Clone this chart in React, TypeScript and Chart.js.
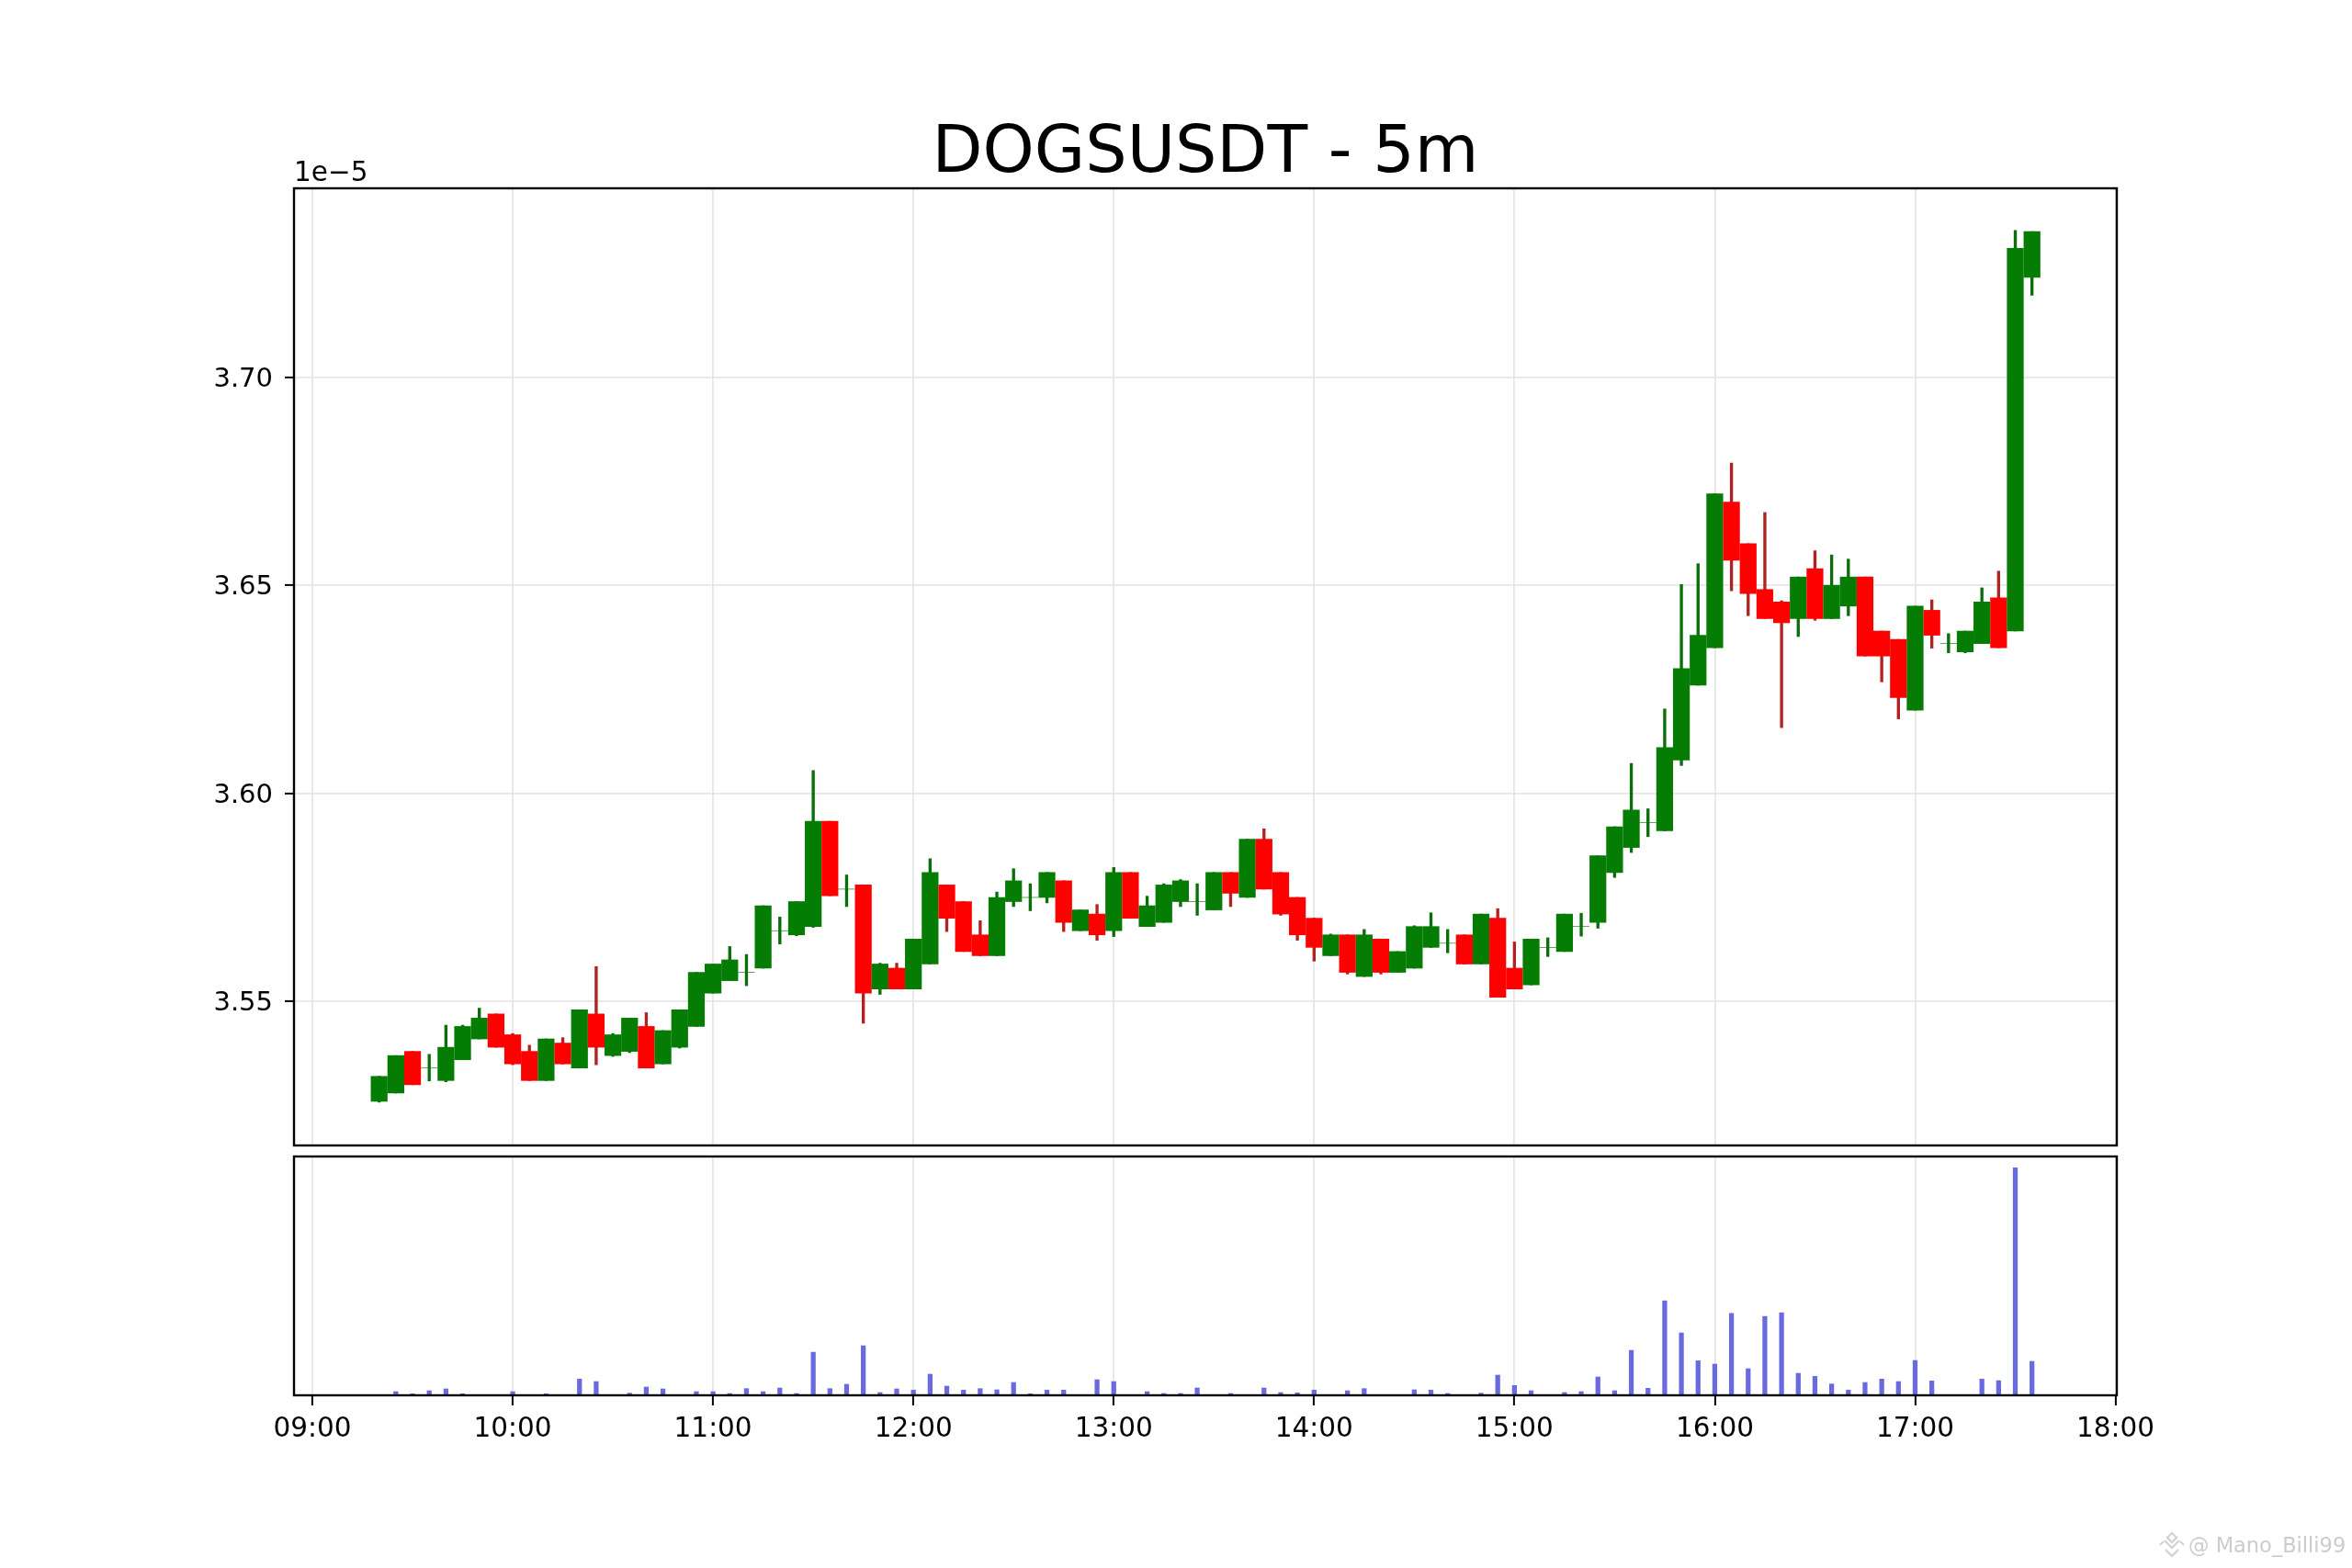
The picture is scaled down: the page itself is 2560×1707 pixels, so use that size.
import React, { useEffect, useRef } from "react";
import { Chart, registerables } from "chart.js";

Chart.register(...registerables);

const TITLE = "DOGSUSDT - 5m";
const OFFSET_TEXT = "1e\u22125";
const WATERMARK = "@ Mano_Billi99";

const times = [
  "09:20","09:25","09:30","09:35","09:40","09:45","09:50","09:55","10:00","10:05",
  "10:10","10:15","10:20","10:25","10:30","10:35","10:40","10:45","10:50","10:55",
  "11:00","11:05","11:10","11:15","11:20","11:25","11:30","11:35","11:40","11:45",
  "11:50","11:55","12:00","12:05","12:10","12:15","12:20","12:25","12:30","12:35",
  "12:40","12:45","12:50","12:55","13:00","13:05","13:10","13:15","13:20","13:25",
  "13:30","13:35","13:40","13:45","13:50","13:55","14:00","14:05","14:10","14:15",
  "14:20","14:25","14:30","14:35","14:40","14:45","14:50","14:55","15:00","15:05",
  "15:10","15:15","15:20","15:25","15:30","15:35","15:40","15:45","15:50","15:55",
  "16:00","16:05","16:10","16:15","16:20","16:25","16:30","16:35","16:40","16:45",
  "16:50","16:55","17:00","17:05","17:10","17:15","17:20","17:25","17:30","17:35",
];

const opens = [
  3.526,3.528,3.538,3.534,3.531,3.536,3.541,3.547,3.542,3.538,
  3.531,3.540,3.534,3.547,3.537,3.538,3.544,3.535,3.539,3.544,
  3.552,3.555,3.557,3.558,3.567,3.566,3.568,3.5933,3.577,3.578,
  3.553,3.558,3.553,3.559,3.578,3.574,3.566,3.561,3.574,3.575,
  3.575,3.579,3.567,3.571,3.567,3.581,3.568,3.569,3.574,3.574,
  3.572,3.581,3.575,3.589,3.581,3.575,3.570,3.561,3.566,3.556,
  3.565,3.557,3.558,3.563,3.564,3.566,3.559,3.570,3.558,3.554,
  3.563,3.562,3.568,3.569,3.581,3.587,3.593,3.591,3.608,3.626,
  3.635,3.670,3.660,3.649,3.646,3.642,3.654,3.642,3.645,3.652,
  3.639,3.637,3.620,3.644,3.636,3.634,3.636,3.647,3.639,3.724,
];
const closes = [
  3.532,3.537,3.530,3.534,3.539,3.544,3.546,3.539,3.535,3.531,
  3.541,3.535,3.548,3.539,3.542,3.546,3.534,3.543,3.548,3.557,
  3.559,3.560,3.557,3.573,3.567,3.574,3.5933,3.5754,3.577,3.552,
  3.559,3.553,3.565,3.581,3.570,3.562,3.561,3.575,3.579,3.575,
  3.581,3.569,3.572,3.566,3.581,3.570,3.573,3.578,3.579,3.574,
  3.581,3.576,3.589,3.577,3.571,3.566,3.563,3.566,3.557,3.566,
  3.557,3.562,3.568,3.568,3.564,3.559,3.571,3.551,3.553,3.565,
  3.563,3.571,3.568,3.585,3.592,3.596,3.593,3.611,3.630,3.638,
  3.672,3.656,3.648,3.642,3.641,3.652,3.642,3.650,3.652,3.633,
  3.633,3.623,3.645,3.638,3.636,3.639,3.646,3.635,3.731,3.735,
];
const highs = [
  3.532,3.537,3.538,3.5373,3.5443,3.5443,3.5484,3.547,3.5423,3.5395,
  3.541,3.5413,3.548,3.5584,3.5423,3.546,3.5473,3.543,3.548,3.557,
  3.559,3.5632,3.5613,3.573,3.5703,3.574,3.6055,3.5933,3.5804,3.578,
  3.5592,3.5592,3.565,3.5843,3.578,3.574,3.5694,3.5763,3.5819,3.5783,
  3.581,3.579,3.572,3.5733,3.5822,3.581,3.5753,3.5783,3.5793,3.5783,
  3.581,3.581,3.589,3.5915,3.581,3.575,3.570,3.5662,3.566,3.5673,
  3.565,3.562,3.5682,3.5713,3.5673,3.566,3.571,3.5723,3.5643,3.565,
  3.5653,3.571,3.5712,3.585,3.592,3.6072,3.5963,3.6203,3.6502,3.6552,
  3.672,3.6794,3.660,3.6675,3.6463,3.652,3.6583,3.6573,3.6563,3.652,
  3.639,3.637,3.645,3.6465,3.6384,3.639,3.6494,3.6534,3.7353,3.735,
];
const lows = [
  3.5258,3.528,3.530,3.5309,3.5307,3.536,3.541,3.539,3.5348,3.531,
  3.531,3.535,3.534,3.5348,3.5368,3.5377,3.534,3.535,3.5388,3.544,
  3.552,3.555,3.5538,3.558,3.5638,3.5658,3.5678,3.5754,3.5728,3.5448,
  3.5517,3.553,3.553,3.559,3.5668,3.562,3.561,3.561,3.5728,3.5718,
  3.5737,3.5668,3.567,3.5647,3.5656,3.570,3.568,3.569,3.5728,3.5707,
  3.572,3.5728,3.575,3.577,3.5707,3.5647,3.5597,3.561,3.5566,3.556,
  3.5566,3.557,3.558,3.563,3.5617,3.559,3.559,3.551,3.553,3.554,
  3.5608,3.562,3.5657,3.5676,3.5798,3.5858,3.5896,3.591,3.6067,3.626,
  3.635,3.6487,3.6427,3.642,3.6158,3.6377,3.6416,3.642,3.6427,3.633,
  3.6268,3.6179,3.620,3.6349,3.6338,3.6338,3.636,3.635,3.639,3.7197,
];
const volumes = [
  1,12,5,15,21,5,2,2,12,2,
  5,2,53,45,2,7,27,21,2,12,
  12,6,22,12,24,6,141,22,36,162,
  9,21,17,69,30,17,22,18,42,5,
  17,17,1,51,45,1,12,6,6,24,
  2,6,2,24,9,8,17,1,15,22,
  2,1,18,17,6,1,7,66,32,15,
  2,9,12,60,15,147,23,309,204,113,
  102,268,87,258,270,72,62,37,17,42,
  53,45,114,47,2,0,53,48,744,111,
];
const priceTicks = [3.55, 3.6, 3.65, 3.7];

const toMinutes = (t: string) => {
  const [h, m] = t.split(":").map(Number);
  return h * 60 + m;
};
const minuteLabel = (v: number) => {
  const h = Math.floor(v / 60);
  const m = v % 60;
  return `${String(h).padStart(2, "0")}:${String(m).padStart(2, "0")}`;
};

const WIDTH = 2560;
const HEIGHT = 1707;
const SPLIT = 1253;
const FONT = '"DejaVu Sans", sans-serif';
const X_MIN = 534.5;
const X_MAX = 1080.4;
const GRID = "#e6e6e6";

const framePlugin = {
  id: "frame",
  afterDraw(chart: any) {
    const { ctx, chartArea: a } = chart;
    ctx.save();
    ctx.strokeStyle = "#000";
    ctx.lineWidth = 2.4;
    ctx.strokeRect(a.left, a.top, a.right - a.left, a.bottom - a.top);
    ctx.restore();
  },
};
const offsetPlugin = {
  id: "offsetText",
  afterDraw(chart: any) {
    const { ctx, chartArea: a } = chart;
    ctx.save();
    ctx.font = `29.5px ${FONT}`;
    ctx.fillStyle = "#000";
    ctx.textAlign = "left";
    ctx.textBaseline = "alphabetic";
    ctx.fillText(OFFSET_TEXT, a.left, a.top - 8);
    ctx.restore();
  },
};

export default function App() {
  const mainRef = useRef<HTMLCanvasElement | null>(null);
  const volRef = useRef<HTMLCanvasElement | null>(null);

  useEffect(() => {
    document.body.style.margin = "0";
    document.body.style.background = "#fff";
    const xs = times.map(toMinutes);
    const isUp = xs.map((_, i) => closes[i] >= opens[i]);

    const main = new Chart(mainRef.current!, {
      type: "bar",
      data: {
        datasets: [
          {
            label: "body",
            order: 1,
            grouped: false,
            data: xs.map((x, i) => ({ x, y: [opens[i], closes[i]] })) as any,
            backgroundColor: isUp.map((u) => (u ? "#057d05" : "#ff0000")),
            barThickness: 17.6,
            borderWidth: 0,
          },
          {
            label: "wick",
            order: 2,
            grouped: false,
            data: xs.map((x, i) => ({ x, y: [lows[i], highs[i]] })) as any,
            backgroundColor: isUp.map((u) => (u ? "#0a6e0a" : "#b22222")),
            barThickness: 2.7,
            borderWidth: 0,
          },
        ],
      },
      options: {
        animation: false,
        responsive: false,
        devicePixelRatio: 1,
        layout: { padding: { left: 0, right: WIDTH - 2304, top: 0, bottom: SPLIT - 1247 } },
        plugins: {
          legend: { display: false },
          tooltip: { enabled: false },
          title: {
            display: true,
            text: TITLE,
            color: "#000",
            fullSize: false,
            font: { family: FONT, size: 71.5, weight: "normal", lineHeight: 1 },
            padding: { top: 132.5, bottom: 1 },
          },
        },
        scales: {
          x: {
            type: "linear",
            offset: false,
            min: X_MIN,
            max: X_MAX,
            border: { display: false },
            grid: { offset: false, color: GRID, lineWidth: 1.8, drawTicks: false },
            ticks: { display: false, stepSize: 60, includeBounds: false },
            afterFit: (s: any) => { s.height = 0; },
          },
          y: {
            type: "linear",
            min: 3.5154,
            max: 3.7454,
            border: { display: false },
            afterFit: (s: any) => {
              s.width = 320;
              s.paddingTop = 0;
              s.paddingBottom = 0;
            },
            afterBuildTicks: (s: any) => { s.ticks = priceTicks.map((value) => ({ value })); },
            grid: { color: GRID, lineWidth: 1.8, tickColor: "#000", tickWidth: 2, tickLength: 10 },
            ticks: {
              color: "#000",
              font: { family: FONT, size: 29 },
              padding: 13,
              labelOffset: 2.5,
              callback: (v: any) => Number(v).toFixed(2),
            },
          },
        },
      } as any,
      plugins: [framePlugin, offsetPlugin],
    });

    const vol = new Chart(volRef.current!, {
      type: "bar",
      data: {
        datasets: [
          {
            label: "volume",
            grouped: false,
            data: xs.map((x, i) => ({ x, y: volumes[i] })) as any,
            backgroundColor: "#6a6ae0",
            barThickness: 4.6,
            borderWidth: 0,
          },
        ],
      },
      options: {
        animation: false,
        responsive: false,
        devicePixelRatio: 1,
        layout: { padding: { left: 320, right: WIDTH - 2304, top: 1259 - SPLIT, bottom: 0 } },
        plugins: { legend: { display: false }, tooltip: { enabled: false } },
        scales: {
          x: {
            type: "linear",
            offset: false,
            min: X_MIN,
            max: X_MAX,
            border: { display: false },
            afterFit: (s: any) => { s.height = HEIGHT - 1519; },
            grid: { offset: false, color: GRID, lineWidth: 1.8, tickColor: "#000", tickWidth: 2, tickLength: 11 },
            ticks: {
              stepSize: 60,
              includeBounds: false,
              autoSkip: false,
              maxRotation: 0,
              minRotation: 0,
              color: "#000",
              font: { family: FONT, size: 29.5 },
              padding: 9,
              callback: (v: any) => minuteLabel(Number(v)),
            },
          },
          y: { type: "linear", display: false, min: 0, max: 781 },
        },
      } as any,
      plugins: [framePlugin],
    });

    return () => {
      main.destroy();
      vol.destroy();
    };
  }, []);

  return (
    <div style={{ position: "relative", width: WIDTH, height: HEIGHT, background: "#fff", overflow: "hidden" }}>
      <canvas ref={mainRef} width={WIDTH} height={SPLIT} style={{ position: "absolute", left: 0, top: 0, width: WIDTH, height: SPLIT }} />
      <canvas ref={volRef} width={WIDTH} height={HEIGHT - SPLIT} style={{ position: "absolute", left: 0, top: SPLIT, width: WIDTH, height: HEIGHT - SPLIT }} />
      <svg width={30} height={30} viewBox="0 0 30 30" style={{ position: "absolute", left: 2349, top: 1667 }} fill="none" stroke="#d4d4d4" strokeWidth={2.4}>
        <path d="M15 2 L20 7 L15 12 L10 7 Z" />
        <path d="M7 10 L15 18 L23 10" />
        <path d="M2 15 L6 11 M28 15 L24 11" />
        <path d="M8 20 L15 27 L22 20" />
      </svg>
      <div style={{ position: "absolute", left: 2382, top: 1668, fontFamily: FONT, fontSize: 22.5, lineHeight: "28px", color: "#cccccc", whiteSpace: "nowrap" }}>
        {WATERMARK}
      </div>
    </div>
  );
}
